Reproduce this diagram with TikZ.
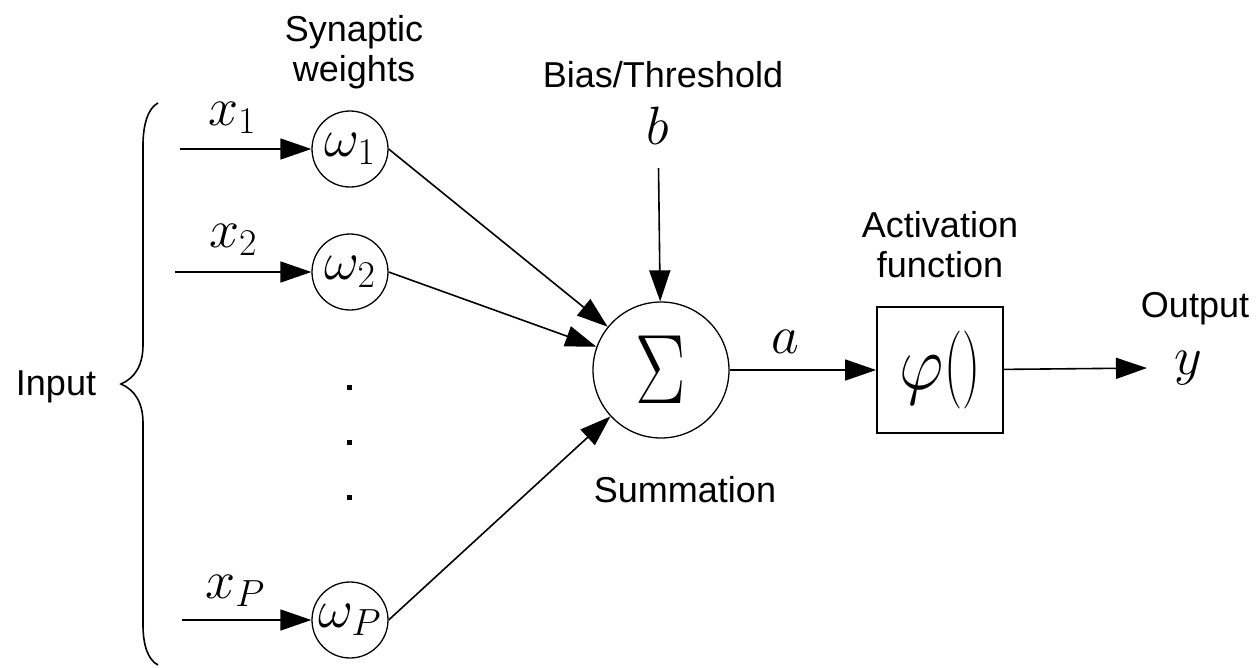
\RequirePackage{fix-cm}
\documentclass[tikz,border=0pt]{standalone}
\usepackage{fontspec}
\setmainfont{Liberation Sans}
\usetikzlibrary{arrows.meta,positioning}

\begin{document}
\begin{tikzpicture}[
    x=1pt, y=-1pt,
    wcircle/.style={circle, draw, line width=1.3pt, minimum size=76pt, inner sep=0pt, font=\fontsize{54}{60}\selectfont},
    sumcircle/.style={circle, draw, line width=1.3pt, minimum size=136pt, inner sep=0pt, font=\fontsize{52}{58}\selectfont},
    actbox/.style={rectangle, draw, line width=1.8pt, minimum size=126pt, inner sep=0pt, font=\fontsize{60}{66}\selectfont},
    txt/.style={font=\fontsize{36}{40}\selectfont, inner sep=0pt, align=center},
    mathtxt/.style={font=\fontsize{54}{60}\selectfont, inner sep=2pt, anchor=base},
    vdot/.style={rectangle, fill, minimum size=5pt, inner sep=0pt},
    arrow/.style={-{Triangle[length=31pt, width=21pt]}, line width=1.6pt}
]
\useasboundingbox (0,0) rectangle (1258,667);

% weights and summation
\node[wcircle] (w1) at (350,149) {$\omega_1$};
\node[wcircle] (w2) at (350,272) {$\omega_2$};
\node[wcircle] (wp) at (350,620) {$\omega_P$};
\node[sumcircle] (sum) at (661,370) {\scalebox{1.45}[1.9]{$\Sigma$}};
\node[actbox] (act) at (940,370) {\scalebox{1.15}[1.3]{$\varphi$}\scalebox{0.85}[1.3]{$\bigl(\bigr)$}};

\foreach \y in {387,442,497}
    \node[vdot] at (349,\y) {};

% inputs
\coordinate (in1) at (180,149);
\coordinate (in2) at (175,272);
\coordinate (inp) at (182,620);
\node[mathtxt] (x1) at (232,125) {$x_1$};
\node[mathtxt] (x2) at (233,247) {$x_2$};
\node[mathtxt] (xp) at (235,598) {$x_P$};
\node[mathtxt] (b) at (658,144) {$b$};
\node[mathtxt] (y) at (1188,374) {$y$};

% text labels
\node[txt] (synlbl) at (354,52) {Synaptic\\weights};
\node[txt, anchor=base] (biaslbl) at (663,87) {Bias/Threshold};
\node[txt] (actlbl) at (940,245) {Activation\\function};
\node[txt, anchor=base] (outlbl) at (1195,317) {Output};
\node[txt, anchor=base] (inlbl) at (56,395) {Input};
\node[txt, anchor=base] (sumlbl) at (685,502) {Summation};

% brace
\draw[line width=1.6pt] (158,103) .. controls (148,108) and (143,125) .. (143,145)
    -- (143,345) .. controls (143,365) and (135,378) .. (121,384)
    .. controls (135,390) and (143,403) .. (143,423)
    -- (143,625) .. controls (143,645) and (148,660) .. (158,665);

\draw[arrow] (in1) -- (w1);
\draw[arrow] (in2) -- (w2);
\draw[arrow] (inp) -- (wp);
\draw[arrow] (w1.east) -- (sum);
\draw[arrow] (w2.east) -- (sum);
\draw[arrow] (wp.east) -- (sum);
\draw[arrow, shorten <=22pt] (b) -- (sum);
\draw[arrow] (sum) -- node[mathtxt, pos=0.38, above=14pt] (a) {$a$} (act);
\draw[arrow, shorten >=25pt] (act) -- (y);
\end{tikzpicture}
\end{document}
